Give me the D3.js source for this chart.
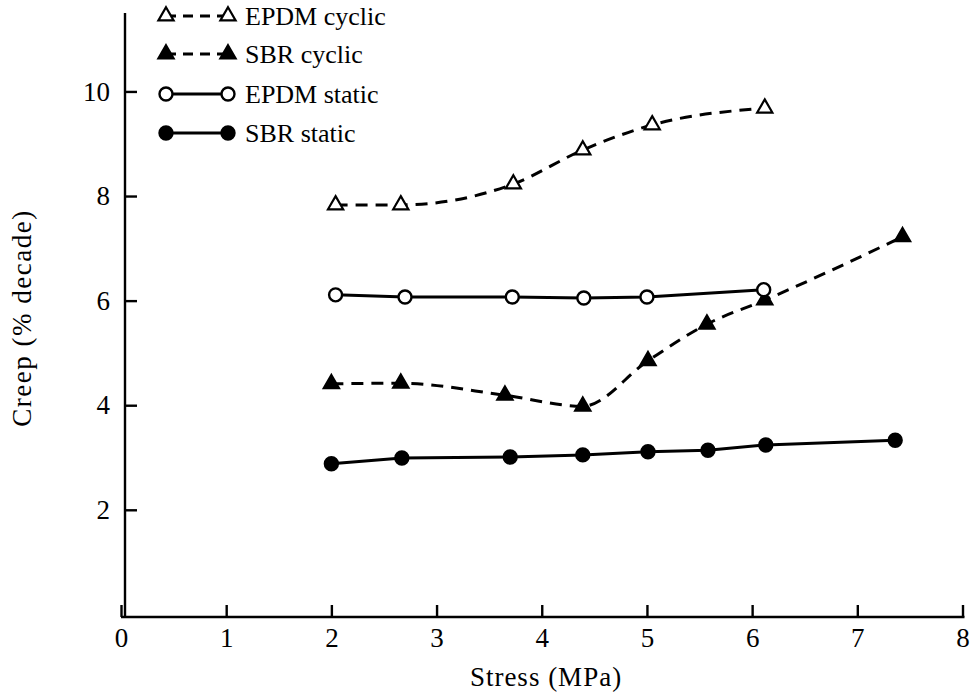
<!DOCTYPE html>
<html lang="en">
<head>
    <meta charset="UTF-8">
    <title>creep vs stress</title>
    <script src="https://d3js.org/d3.v7.min.js"></script>
    <style>
        body { margin: 0; background: #fff; }
        text { font-family: "Liberation Serif", "DejaVu Serif", serif; fill: #000; }
    </style>
</head>
<body>
    <svg></svg>
    <script>
        const width = 974;
        const height = 694;

        // data
        const xTicks = [0, 1, 2, 3, 4, 5, 6, 7, 8];
        const yTicks = [2, 4, 6, 8, 10];

        const epdmCyclicX = [2.04, 2.66, 3.73, 4.39, 5.05, 6.12];
        const epdmCyclicY = [7.83, 7.83, 8.23, 8.88, 9.36, 9.68];

        const sbrCyclicX = [2.00, 2.66, 3.65, 4.39, 5.01, 5.57, 6.12, 7.43];
        const sbrCyclicY = [4.41, 4.42, 4.19, 3.98, 4.85, 5.55, 6.01, 7.22];

        const epdmStaticX = [2.04, 2.70, 3.72, 4.40, 5.00, 6.11];
        const epdmStaticY = [6.11, 6.07, 6.07, 6.05, 6.07, 6.21];

        const sbrStaticX = [2.00, 2.67, 3.70, 4.39, 5.01, 5.58, 6.13, 7.36];
        const sbrStaticY = [2.88, 2.99, 3.01, 3.05, 3.11, 3.14, 3.24, 3.33];

        const legendLabels = ["EPDM cyclic", "SBR cyclic", "EPDM static", "SBR static"];

        const svg = d3.select("svg")
            .attr("width", width)
            .attr("height", height);

        const x = d3.scaleLinear().domain([0, 8]).range([121, 962.5]);
        const y = d3.scaleLinear().domain([-0.05, 11.5]).range([617, 13]);

        // axes
        const xAxis = svg.append("g")
            .attr("transform", `translate(0, ${y(-0.05)})`)
            .call(d3.axisBottom(x).tickValues(xTicks).tickSize(0).tickPadding(11).tickFormat(d3.format("d")));
        xAxis.select(".domain").attr("stroke-width", 2.4).attr("d", `M${x(0)},0H${x(8) + 2}`);
        xAxis.selectAll(".tick").append("line")
            .attr("y1", 0).attr("y2", -12)
            .attr("stroke", "#000").attr("stroke-width", 2.4);
        xAxis.selectAll("text").attr("font-size", 27);

        const yAxis = svg.append("g")
            .attr("transform", `translate(${x(0) + 4}, 0)`)
            .call(d3.axisLeft(y).tickValues(yTicks).tickSize(0).tickPadding(15).tickFormat(d3.format("d")));
        yAxis.select(".domain").attr("stroke-width", 2.4).attr("d", `M0,${y(-0.05)}V${y(11.5)}`);
        yAxis.selectAll(".tick").append("line")
            .attr("x1", 0).attr("x2", 12)
            .attr("stroke", "#000").attr("stroke-width", 2.4);
        yAxis.selectAll("text").attr("font-size", 27);

        svg.append("text")
            .attr("x", 546).attr("y", 686)
            .attr("text-anchor", "middle")
            .attr("font-size", 27)
            .attr("letter-spacing", 1)
            .text("Stress (MPa)");

        svg.append("text")
            .attr("transform", `translate(31, 318) rotate(-90)`)
            .attr("text-anchor", "middle")
            .attr("font-size", 27)
            .attr("letter-spacing", 1.5)
            .text("Creep (% decade)");

        const zip = (xs, ys) => xs.map((v, i) => ({x: v, y: ys[i]}));

        const series = [
            {name: legendLabels[0], data: zip(epdmCyclicX, epdmCyclicY), dash: "12,8", curve: d3.curveMonotoneX, mark: "tri", fill: "#fff"},
            {name: legendLabels[1], data: zip(sbrCyclicX, sbrCyclicY), dash: "12,8", curve: d3.curveMonotoneX, mark: "tri", fill: "#000"},
            {name: legendLabels[2], data: zip(epdmStaticX, epdmStaticY), dash: null, curve: d3.curveLinear, mark: "circ", fill: "#fff"},
            {name: legendLabels[3], data: zip(sbrStaticX, sbrStaticY), dash: null, curve: d3.curveLinear, mark: "circ", fill: "#000"}
        ];

        const triSym = d3.symbol().type(d3.symbolTriangle).size(100);

        function drawMark(g, s, cx, cy) {
            if (s.mark === "tri") {
                g.append("path")
                    .attr("d", triSym())
                    .attr("transform", `translate(${cx}, ${cy})`)
                    .attr("fill", s.fill)
                    .attr("stroke", "#000")
                    .attr("stroke-width", 2.2);
            } else {
                g.append("circle")
                    .attr("cx", cx).attr("cy", cy).attr("r", 6.5)
                    .attr("fill", s.fill)
                    .attr("stroke", "#000")
                    .attr("stroke-width", 2.4);
            }
        }

        const plot = svg.append("g");

        series.forEach(s => {
            const line = d3.line()
                .x(d => x(d.x))
                .y(d => y(d.y))
                .curve(s.curve);
            plot.append("path")
                .datum(s.data)
                .attr("d", line)
                .attr("fill", "none")
                .attr("stroke", "#000")
                .attr("stroke-width", 3)
                .attr("stroke-dasharray", s.dash);
        });

        series.forEach(s => {
            s.data.forEach(d => drawMark(plot, s, x(d.x), y(d.y)));
        });

        // legend
        const legendY = [16, 54, 94, 133];
        const legend = svg.append("g");
        series.forEach((s, i) => {
            const ly = legendY[i];
            legend.append("line")
                .attr("x1", 166).attr("x2", 228)
                .attr("y1", ly).attr("y2", ly)
                .attr("stroke", "#000")
                .attr("stroke-width", 3)
                .attr("stroke-dasharray", s.dash ? "10,7" : null);
            drawMark(legend, s, 166, ly);
            drawMark(legend, s, 228, ly);
            legend.append("text")
                .attr("x", 245).attr("y", ly + 9)
                .attr("font-size", 26)
                .text(s.name);
        });
    </script>
</body>
</html>
